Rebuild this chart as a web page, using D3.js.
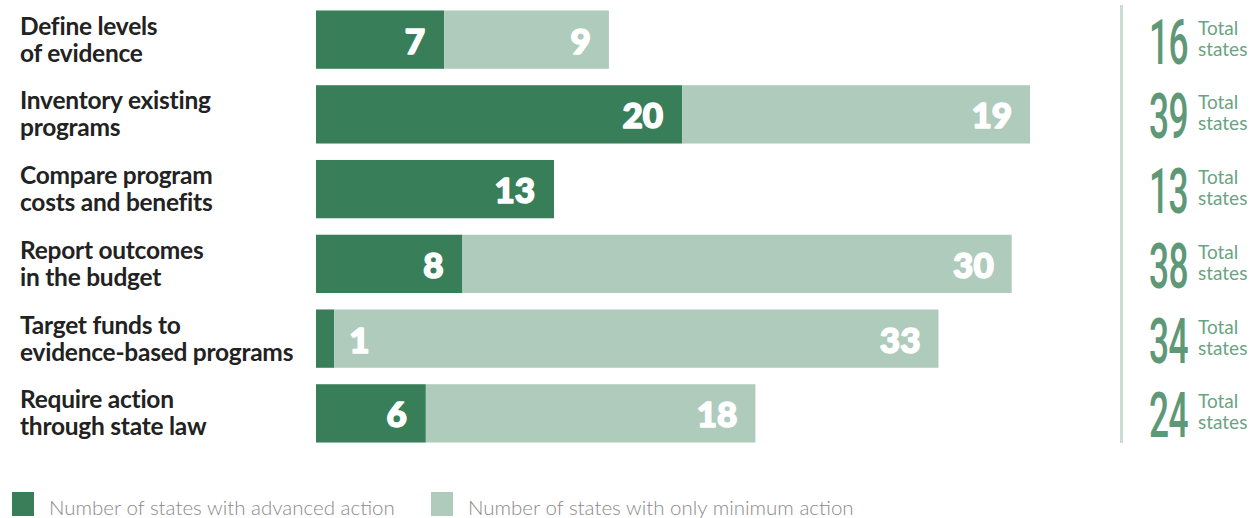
<!DOCTYPE html>
<html><head><meta charset="utf-8">
<script src="https://cdn.jsdelivr.net/npm/d3@7"></script>
<style>body{margin:0;background:#fff}svg{display:block}</style>
</head><body>
<svg id="c" width="1257" height="518"></svg>
<script>
const categories = [["Define levels","of evidence"],["Inventory existing","programs"],["Compare program","costs and benefits"],["Report outcomes","in the budget"],["Target funds to","evidence-based programs"],["Require action","through state law"]];
const advanced = [7,20,13,8,1,6];
const minimum = [9,19,0,30,33,18];
const totals = [16,39,13,38,34,24];
const legendLabels = ["Number of states with advanced action","Number of states with only minimum action"];

const dark = "#387e59", light = "#aecbbb";
const svg = d3.select("#c");
const x = d3.scaleLinear().domain([0,39]).range([316,1030]);
const y = d3.scaleBand().domain(d3.range(categories.length)).range([3,450]).paddingInner(0.22).paddingOuter(0.1);

const rows = svg.selectAll("g.row").data(categories).join("g").attr("class","row");
rows.each(function(cat,i){
  const g = d3.select(this);
  const yc = y(i) + y.bandwidth()/2;
  g.append("rect").attr("x",x(0)).attr("y",y(i)).attr("width",x(advanced[i])-x(0)).attr("height",y.bandwidth()).attr("fill",dark);
  if (minimum[i]>0) g.append("rect").attr("x",x(advanced[i])).attr("y",y(i)).attr("width",x(advanced[i]+minimum[i])-x(advanced[i])).attr("height",y.bandwidth()).attr("fill",light);
  const numStyle = t => t.attr("fill","#fff").attr("stroke","#fff").attr("stroke-width",1.6).attr("stroke-linejoin","round")
     .attr("font-family","'Lato Black', Lato, sans-serif").attr("font-weight",900).attr("font-size",35).attr("dominant-baseline","central");
  if (advanced[i] >= 3) {
    numStyle(g.append("text").attr("x",x(advanced[i])-19).attr("y",yc).attr("text-anchor","end").text(advanced[i]));
  } else {
    numStyle(g.append("text").attr("x",x(advanced[i])+15).attr("y",yc).attr("text-anchor","start").text(advanced[i]));
  }
  if (minimum[i]>0) numStyle(g.append("text").attr("x",x(advanced[i]+minimum[i])-18).attr("y",yc).attr("text-anchor","end").text(minimum[i]));
  const lab = g.append("text").attr("x",20).attr("fill","#222").attr("font-family","Lato, sans-serif").attr("font-weight",700).attr("font-size",24.5).attr("letter-spacing",-0.25);
  lab.append("tspan").attr("x",20).attr("y",yc-5).text(cat[0]);
  lab.append("tspan").attr("x",20).attr("y",yc+22).text(cat[1]);
  // totals
  g.append("text").attr("transform",`translate(1188,${yc+24}) scale(0.56,1)`).attr("text-anchor","end").attr("fill","#5e9877").attr("font-family","Roboto, sans-serif").attr("font-weight",500).attr("font-size",63).attr("letter-spacing",-1).text(totals[i]);
  const tt = g.append("text").attr("fill","#6aa383").attr("font-family","Lato, sans-serif").attr("font-weight",400).attr("font-size",19);
  tt.append("tspan").attr("x",1198).attr("y",yc-5).text("Total");
  tt.append("tspan").attr("x",1198).attr("y",yc+16).text("states");
});
svg.append("line").attr("x1",1121.5).attr("x2",1121.5).attr("y1",5).attr("y2",443).attr("stroke","#c8ddd1").attr("stroke-width",3);

const leg = [[12,dark,legendLabels[0]],[431,light,legendLabels[1]]];
leg.forEach(([lx,c,t])=>{
  svg.append("rect").attr("x",lx).attr("y",492).attr("width",22).attr("height",24).attr("fill",c);
  svg.append("text").attr("x",lx+37).attr("y",515).attr("fill","#8a8a8a").attr("font-family","Lato, sans-serif").attr("font-weight",300).attr("font-size",20.5).text(t);
});
</script>
</body></html>
